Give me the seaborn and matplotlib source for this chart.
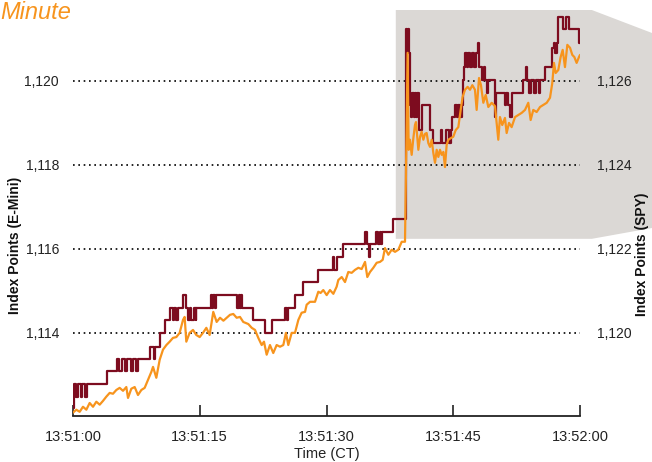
import matplotlib
matplotlib.use("Agg")
import matplotlib.pyplot as plt
import seaborn as sns
import pandas as pd
from matplotlib.patches import Polygon

# ---------------- data ----------------
emini_time = [
    0.0, 0.1, 0.4, 0.6, 0.9, 1.1, 1.4, 1.6, 4.0, 5.2,
    5.5, 5.8, 6.1, 6.4, 6.9, 7.1, 7.5, 7.7, 9.1, 9.6,
    9.75, 10.26, 10.85, 11.5, 11.8, 12.0, 12.2, 12.4, 13.0, 13.4,
    13.6, 13.8, 14.0, 14.3, 14.5, 14.6, 16.3, 16.5, 16.6, 16.8,
    16.9, 19.4, 19.6, 19.8, 19.9, 20.0, 21.3, 22.7, 23.55, 25.1,
    25.3, 25.5, 26.27, 27.22, 28.99, 30.77, 30.9, 31.3, 31.9, 34.6,
    34.75, 35.0, 35.15, 35.86, 36.1, 36.3, 36.5, 36.6, 37.85, 39.45,
    39.55, 39.65, 39.75, 39.85, 40.0, 40.15, 40.3, 40.45, 40.6, 40.75,
    40.9, 41.0, 41.3, 42.25, 42.6, 43.5, 43.7, 44.2, 44.5, 44.7,
    44.9, 45.2, 45.4, 45.6, 45.8, 46.0, 46.1, 46.25, 46.4, 46.6,
    46.8, 47.0, 47.2, 47.4, 47.7, 47.9, 48.0, 48.4, 48.6, 48.75,
    49.0, 49.15, 49.94, 50.1, 51.1, 51.3, 51.5, 51.7, 51.9, 53.3,
    53.6, 53.75, 54.0, 54.2, 54.5, 54.8, 55.1, 55.3, 55.86, 56.65,
    56.9, 57.1, 57.3, 57.43, 58.0, 58.35, 58.7, 59.85, 60.0,
]
emini_price = [
    1112.21, 1112.79, 1112.48, 1112.79, 1112.48, 1112.79, 1112.48, 1112.79, 1113.10, 1113.38,
    1113.10, 1113.38, 1113.10, 1113.38, 1113.10, 1113.38, 1113.10, 1113.38, 1113.67, 1113.38,
    1113.67, 1114.00, 1114.31, 1114.60, 1114.31, 1114.60, 1114.31, 1114.60, 1114.90, 1114.60,
    1114.31, 1114.60, 1114.31, 1114.60, 1114.31, 1114.60, 1114.90, 1114.60, 1114.90, 1114.60,
    1114.90, 1114.60, 1114.90, 1114.60, 1114.90, 1114.60, 1114.31, 1114.00, 1114.31, 1114.60,
    1114.31, 1114.60, 1114.90, 1115.21, 1115.50, 1115.81, 1115.50, 1115.81, 1116.12, 1116.41,
    1116.12, 1115.81, 1116.12, 1116.41, 1116.12, 1116.41, 1116.12, 1116.41, 1116.71, 1121.24,
    1120.67, 1121.24, 1120.67, 1119.43, 1119.14, 1119.71, 1119.14, 1119.71, 1119.14, 1119.71,
    1119.14, 1118.83, 1119.43, 1118.83, 1118.52, 1118.83, 1118.52, 1118.83, 1118.52, 1118.83,
    1119.14, 1119.43, 1119.14, 1119.43, 1119.14, 1119.43, 1120.02, 1120.33, 1120.67, 1120.33,
    1120.67, 1120.33, 1120.67, 1120.33, 1120.67, 1120.90, 1120.33, 1120.02, 1120.33, 1120.02,
    1119.71, 1120.02, 1119.14, 1119.71, 1119.43, 1119.71, 1119.43, 1119.14, 1119.71, 1120.02,
    1120.33, 1120.02, 1119.71, 1120.02, 1119.71, 1120.02, 1119.71, 1120.02, 1120.33, 1120.79,
    1120.90, 1120.67, 1120.90, 1121.52, 1121.24, 1121.52, 1121.24, 1120.90, 1120.90,
]

spy_time = [
    0.0, 0.39, 0.79, 1.18, 1.58, 1.97, 2.37, 2.76, 3.16, 3.55,
    3.94, 4.34, 4.73, 5.13, 5.52, 5.92, 6.31, 6.51, 6.9, 7.3,
    7.69, 8.09, 8.48, 8.88, 9.27, 9.47, 9.86, 10.26, 10.65, 11.05,
    11.44, 11.83, 12.23, 12.62, 13.02, 13.21, 13.41, 13.8, 14.2, 14.59,
    14.99, 15.38, 15.78, 16.17, 16.6, 17.0, 17.4, 17.8, 18.19, 18.58,
    18.97, 19.37, 19.76, 20.15, 20.75, 21.15, 21.54, 21.93, 22.33, 22.6,
    22.92, 23.31, 23.7, 24.1, 24.5, 24.89, 25.2, 25.48, 25.88, 26.27,
    26.67, 27.06, 27.46, 27.65, 28.05, 28.64, 29.03, 29.3, 29.62, 30.02,
    30.41, 30.81, 31.2, 31.4, 31.8, 32.19, 32.58, 32.98, 33.37, 33.77,
    34.16, 34.56, 34.83, 35.15, 35.54, 35.94, 36.33, 36.65, 36.92, 37.32,
    37.71, 38.11, 38.5, 38.9, 39.29, 39.6, 39.72, 39.88, 40.08, 40.28,
    40.47, 40.59, 40.87, 41.07, 41.26, 41.46, 41.66, 41.85, 42.05, 42.25,
    42.45, 42.64, 42.84, 43.04, 43.24, 43.43, 43.63, 43.83, 44.02, 44.22,
    44.42, 44.73, 45.0, 45.29, 45.6, 45.88, 46.11, 46.39, 46.7, 46.98,
    47.26, 47.57, 47.77, 48.05, 48.28, 48.56, 48.84, 49.15, 49.55, 49.94,
    50.14, 50.33, 50.53, 50.8, 51.12, 51.32, 51.6, 51.91, 52.31, 52.7,
    53.1, 53.49, 53.88, 54.16, 54.47, 54.87, 55.27, 55.66, 56.06, 56.45,
    56.72, 56.92, 57.12, 57.43, 57.71, 57.95, 58.22, 58.5, 58.82, 59.09,
    59.33, 59.6, 59.88, 60.0,
]
spy_price = [
    1118.10, 1118.17, 1118.12, 1118.24, 1118.17, 1118.33, 1118.24, 1118.36, 1118.29, 1118.38,
    1118.48, 1118.57, 1118.55, 1118.64, 1118.69, 1118.62, 1118.71, 1118.45, 1118.67, 1118.71,
    1118.52, 1118.64, 1118.69, 1118.88, 1119.07, 1119.19, 1118.93, 1119.36, 1119.60, 1119.71,
    1119.79, 1119.88, 1119.90, 1120.00, 1120.31, 1120.38, 1119.79, 1120.00, 1120.07, 1119.95,
    1119.90, 1120.00, 1120.12, 1119.95, 1120.50, 1120.26, 1120.36, 1120.29, 1120.36, 1120.43,
    1120.45, 1120.36, 1120.38, 1120.26, 1120.21, 1120.12, 1120.07, 1119.88, 1119.71, 1119.79,
    1119.48, 1119.71, 1119.52, 1119.71, 1119.67, 1119.71, 1120.00, 1119.71, 1120.00, 1120.00,
    1120.31, 1120.48, 1120.50, 1120.67, 1120.74, 1120.74, 1120.98, 1120.95, 1121.02, 1120.90,
    1121.02, 1120.93, 1121.10, 1121.26, 1121.33, 1121.21, 1121.45, 1121.43, 1121.50, 1121.55,
    1121.52, 1121.69, 1121.33, 1121.45, 1121.55, 1121.67, 1121.69, 1121.74, 1122.02, 1121.86,
    1121.98, 1121.93, 1121.98, 1122.17, 1122.17, 1126.67, 1124.36, 1124.60, 1124.24, 1124.64,
    1124.95, 1125.02, 1124.36, 1124.67, 1124.79, 1124.60, 1124.74, 1124.76, 1124.52, 1124.43,
    1124.60, 1124.29, 1124.05, 1124.36, 1124.19, 1124.36, 1124.24, 1124.31, 1123.95, 1124.48,
    1124.60, 1124.64, 1124.67, 1124.83, 1124.90, 1125.31, 1125.62, 1125.79, 1125.86, 1125.79,
    1125.90, 1125.79, 1125.31, 1126.07, 1125.90, 1125.48, 1125.67, 1125.38, 1125.48, 1125.40,
    1125.00, 1124.60, 1125.14, 1124.95, 1125.12, 1124.76, 1125.00, 1124.90, 1125.14, 1125.19,
    1125.24, 1125.31, 1125.48, 1125.07, 1125.31, 1125.26, 1125.38, 1125.43, 1125.48, 1125.60,
    1125.95, 1126.43, 1126.19, 1126.26, 1126.57, 1126.74, 1126.33, 1126.86, 1126.79, 1126.62,
    1126.57, 1126.43, 1126.57, 1126.62,
]

x_ticks = [0, 15, 30, 45, 60]
x_labels = ["13:51:00", "13:51:15", "13:51:30", "13:51:45", "13:52:00"]
left_ticks = [1114, 1116, 1118, 1120]
right_ticks = [1120, 1122, 1124, 1126]

assert len(emini_time) == len(emini_price)
assert len(spy_time) == len(spy_price)

DARK_RED = "#7d0c1f"
ORANGE = "#f7941d"
SHADE = "#dbd8d5"
TXT = "#222222"

# ---------------- figure ----------------
sns.set_theme(style="white")
plt.rcParams["font.family"] = ["Liberation Sans", "DejaVu Sans"]

fig = plt.figure(figsize=(6.52, 4.62), dpi=100)
ax = fig.add_axes([73 / 652, 46 / 462, 507 / 652, 406 / 462])
ax.patch.set_visible(False)
ax2 = ax.twinx()
ax2.patch.set_visible(False)

y_lo, y_hi = 1112.02, 1121.69
ax.set_xlim(0, 60)
ax.set_ylim(y_lo, y_hi)
ax2.set_ylim(y_lo + 6, y_hi + 6)

df_e = pd.DataFrame({"t": emini_time, "p": emini_price})
df_s = pd.DataFrame({"t": spy_time, "p": spy_price})
sns.lineplot(data=df_e, x="t", y="p", ax=ax, color=DARK_RED, lw=1.6,
             drawstyle="steps-post", estimator=None, sort=False)
sns.lineplot(data=df_s, x="t", y="p", ax=ax2, color=ORANGE, lw=1.6,
             estimator=None, sort=False)

ax.set_yticks(left_ticks)
ax.set_yticklabels([f"{v:,}" for v in left_ticks])
ax2.set_yticks(right_ticks)
ax2.set_yticklabels([f"{v:,}" for v in right_ticks])
ax.grid(axis="y", color="black", linestyle=(0, (1, 2.2)), lw=1.2)
ax.grid(axis="x", visible=False)
ax2.grid(False)

ax.set_xticks(x_ticks)
ax.set_xticklabels(x_labels)
ax.tick_params(axis="x", direction="in", length=8, width=1.2, color=TXT,
               pad=10, labelsize=10.5, labelcolor=TXT, bottom=True)
ax.tick_params(axis="y", length=0, pad=10, labelsize=10, labelcolor=TXT)
ax2.tick_params(axis="y", length=0, pad=12, labelsize=10, labelcolor=TXT)

for s in ["top", "left", "right"]:
    ax.spines[s].set_visible(False)
ax.spines["bottom"].set_color(TXT)
ax.spines["bottom"].set_linewidth(1.3)
for s in ax2.spines.values():
    s.set_visible(False)

ax.set_xlabel("Time (CT)", fontsize=10.5, color=TXT, labelpad=2)
ax.set_ylabel("")
ax2.set_ylabel("")
fig.text(15 / 652, 1 - 245 / 462, "Index Points (E-Mini)", rotation=90, ha="center",
         va="center", fontsize=10, fontweight="bold", color="#111111")
fig.text(642 / 652, 1 - 254 / 462, "Index Points (SPY)", rotation=90, ha="center",
         va="center", fontsize=10, fontweight="bold", color="#111111")

fig.text(0.0, 1 - 1 / 462, "Minute", ha="left", va="top", fontsize=17,
         style="italic", color=ORANGE)

# shaded zoom window + connector to the right edge
zoom_t0, zoom_t1, zoom_lo = 38.2, 61.4, 1116.24
to_fig = lambda pt: fig.transFigure.inverted().transform(ax.transData.transform(pt))
p_bl = to_fig((zoom_t0, zoom_lo))
p_tl = to_fig((zoom_t0, y_hi))
p_tr = to_fig((zoom_t1, y_hi))
p_br = to_fig((zoom_t1, zoom_lo))
verts = [p_bl, p_tl, p_tr, (1.0, 1 - 33 / 462), (1.0, 1 - 228 / 462), p_br]
fig.patches.append(Polygon(verts, closed=True, transform=fig.transFigure,
                           facecolor=SHADE, edgecolor="none", zorder=-5))

fig.savefig("out.png", dpi=100)
